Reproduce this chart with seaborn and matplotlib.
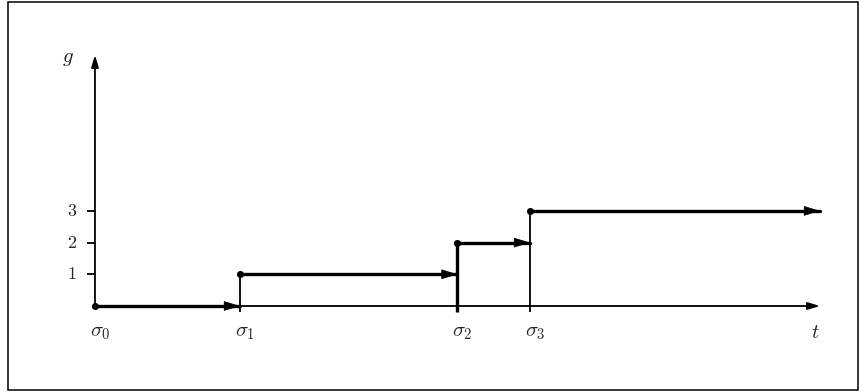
import pandas as pd
import seaborn as sns
import matplotlib.pyplot as plt
from matplotlib.patches import Rectangle

# switching times and the level g holds after each one
sigma_t = [0, 2, 5, 6]
t_end = 10
levels = [0, 1, 2, 3]
sigma_labels = [r'$\sigma_0$', r'$\sigma_1$', r'$\sigma_2$', r'$\sigma_3$']
ytick_vals = [1, 2, 3]
ytick_labels = ['1', '2', '3']
y_axis_top = 7.92

sns.set_theme(style='white')
plt.rcParams['mathtext.fontset'] = 'cm'
plt.rcParams['font.family'] = ['DejaVu Serif']

fig = plt.figure(figsize=(8.67, 3.92), dpi=100)
ax = fig.add_axes([0, 0, 1, 1])
ax.set_xlim(-1.31, 10.648)
ax.set_ylim(-2.713, 9.653)
ax.axis('off')

# outer frame
fig.patches.append(Rectangle((8 / 867, 2 / 392), 850 / 867, 388 / 392,
                             transform=fig.transFigure, fill=False,
                             edgecolor='black', linewidth=1.1))

# axes with arrows
for tip in [(t_end, 0), (0, y_axis_top)]:
    ax.annotate('', xy=tip, xytext=(0, 0),
                arrowprops=dict(arrowstyle='-|>,head_length=0.6,head_width=0.18',
                                lw=1.3, color='black', shrinkA=0, shrinkB=0))

# y ticks and labels
ax.hlines(ytick_vals, -0.11, 0, color='black', lw=1.3)
for v, lab in zip(ytick_vals, ytick_labels):
    ax.text(-0.32, v, '$' + lab + '$', ha='center', va='center', fontsize=13)

# ticks below t axis at sigma_1..3
ax.vlines(sigma_t[1:], -0.19, 0, color='black', lw=1.3)

# horizontal step segments
rows = []
stops = sigma_t[1:] + [t_end]
for i, (a, b, g) in enumerate(zip(sigma_t, stops, levels)):
    rows.append({'seg': i, 't': a, 'g': g})
    rows.append({'seg': i, 't': b, 'g': g})
df = pd.DataFrame(rows)
sns.lineplot(data=df, x='t', y='g', units='seg', estimator=None, sort=False,
             color='black', linewidth=2.4, ax=ax, legend=False)

for b, g in zip(stops, levels):
    ax.annotate('', xy=(b, g), xytext=(b - 0.2, g),
                arrowprops=dict(arrowstyle='-|>,head_length=1.05,head_width=0.32',
                                lw=0.5, color='black', shrinkA=0, shrinkB=0,
                                mutation_scale=10))

# vertical jumps
ax.vlines(sigma_t[1], 0, levels[1], color='black', lw=1.3)
ax.vlines(sigma_t[2], -0.19, levels[2], color='black', lw=2.4)
ax.vlines(sigma_t[3], 0, levels[3], color='black', lw=1.3)

# dots at jump starts
sns.scatterplot(x=sigma_t, y=levels, color='black', s=26, linewidth=0, ax=ax,
                zorder=5)

# labels
for t, lab in zip(sigma_t, sigma_labels):
    ax.text(t + 0.07, -0.85, lab, ha='center', va='center', fontsize=15)
ax.text(-0.37, 7.8, '$g$', ha='center', va='center', fontsize=15)
ax.text(9.93, -0.83, '$t$', ha='center', va='center', fontsize=15)

fig.savefig('out.png', dpi=100)
